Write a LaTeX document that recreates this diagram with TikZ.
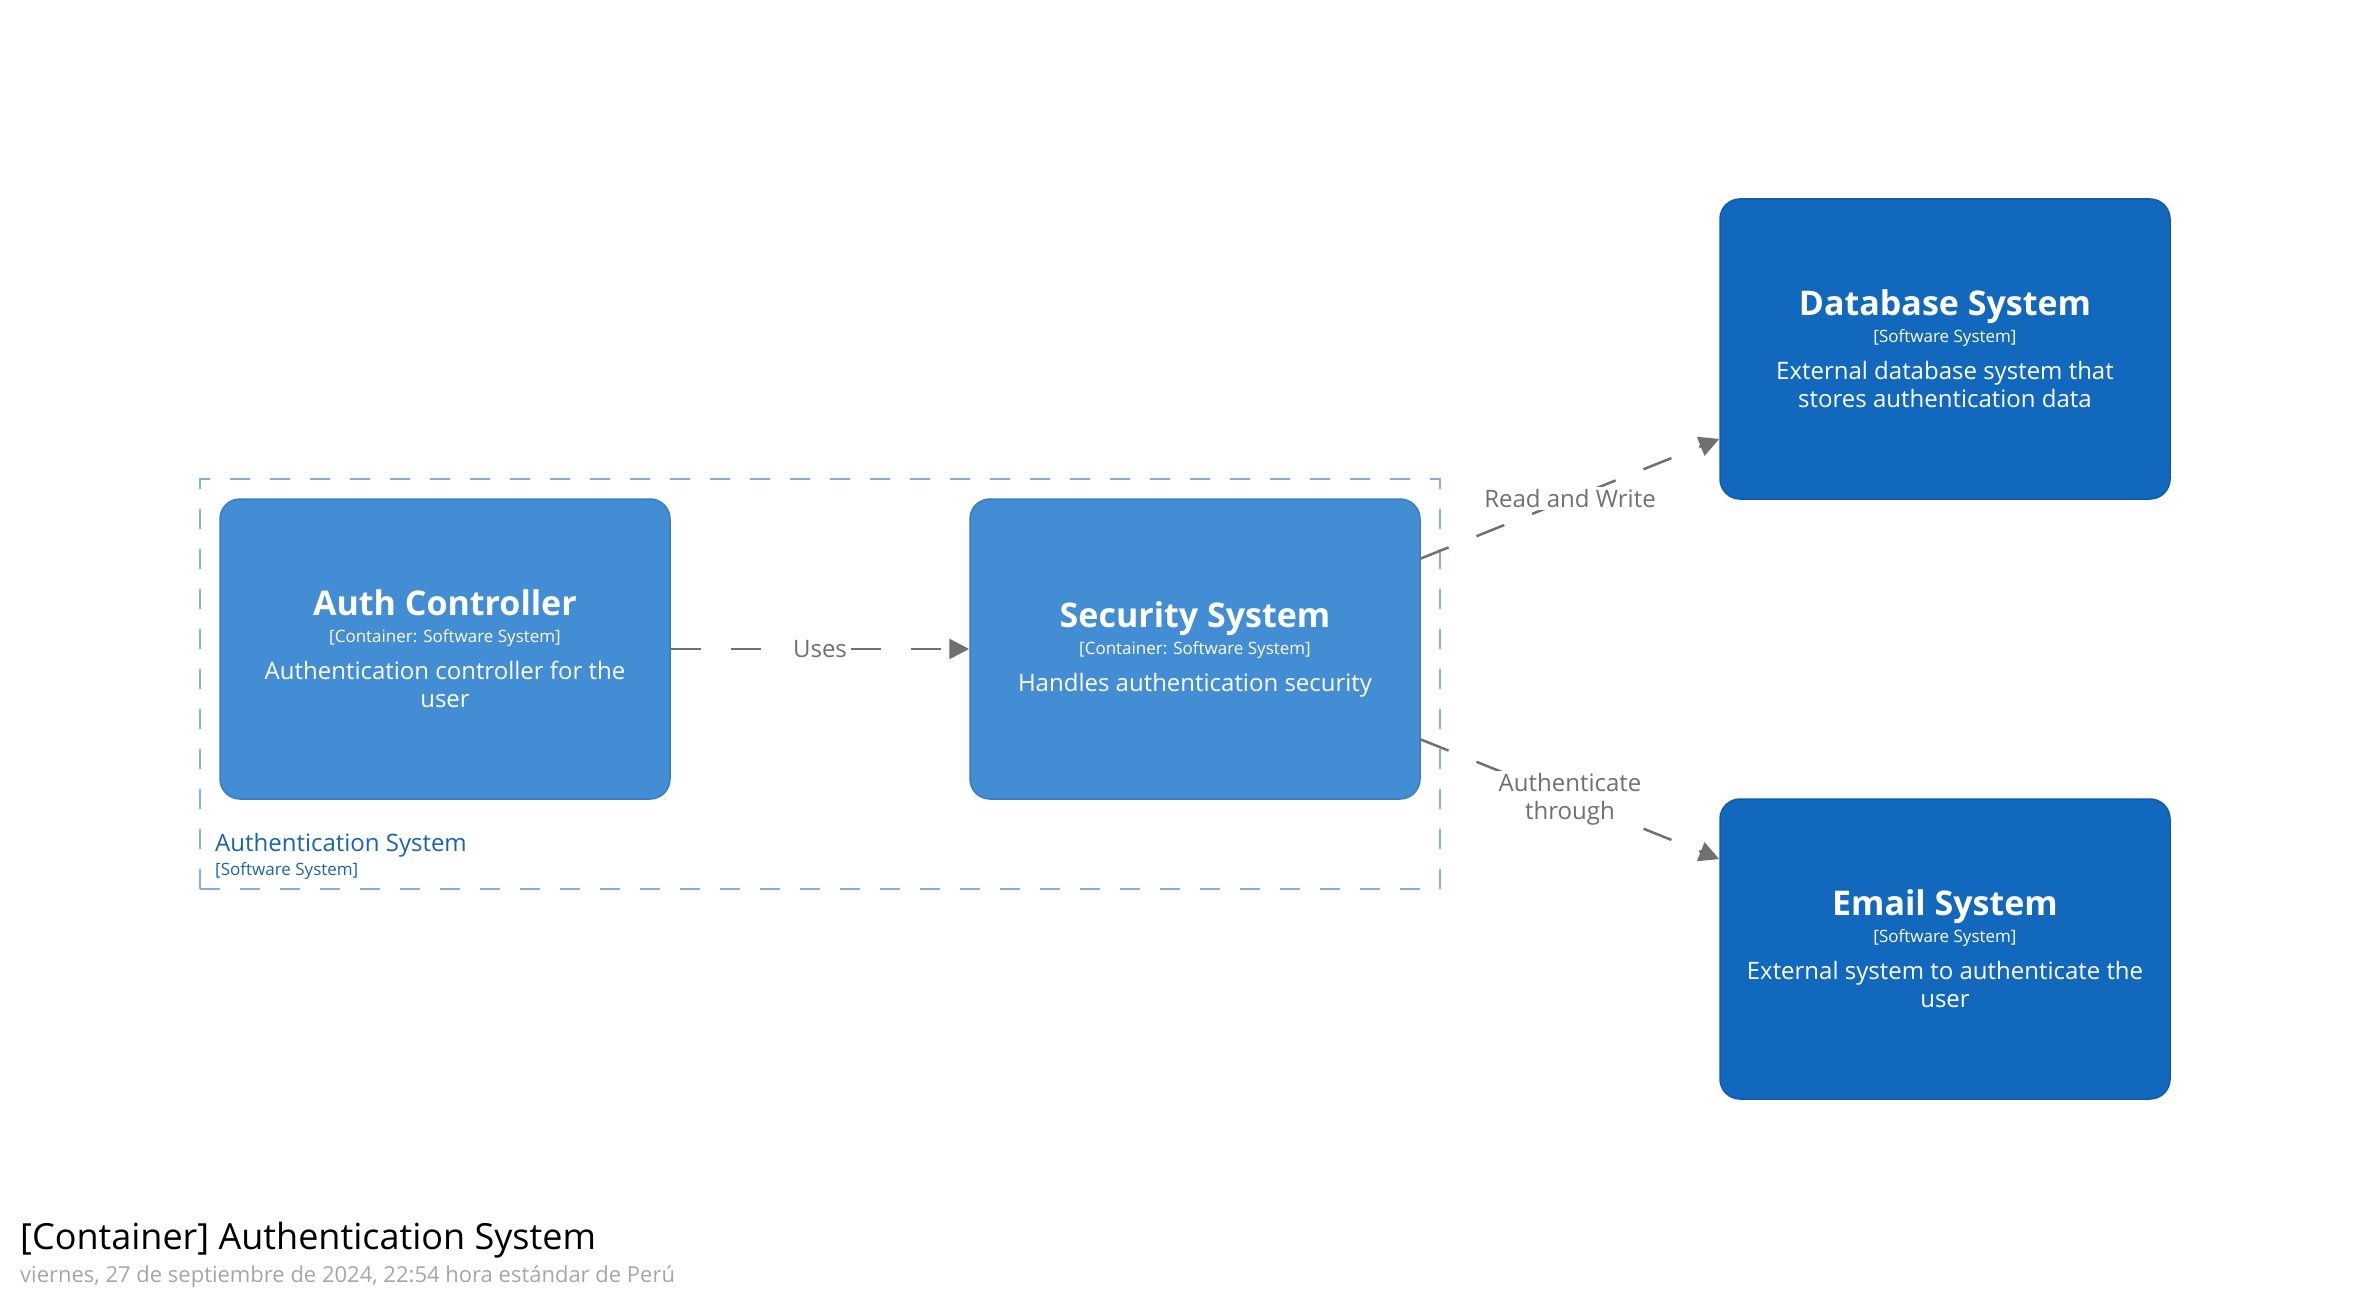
\documentclass[tikz,border=0pt]{standalone}
\usepackage{fontspec}
\setmainfont{Open Sans}
\usetikzlibrary{arrows.meta,positioning}
\setlength{\parindent}{0pt}

\definecolor{contFill}{HTML}{438DD5}
\definecolor{contBorder}{HTML}{3A7DBF}
\definecolor{sysFill}{HTML}{1168BD}
\definecolor{sysBorder}{HTML}{0E5CA9}
\definecolor{relGrey}{HTML}{707070}
\definecolor{bndLine}{HTML}{87AEDB}
\definecolor{bndText}{HTML}{1A63B0}
\definecolor{dateGrey}{HTML}{A6A6A6}

% name, metadata and description of an element
\newcommand{\elname}[1]{{\fontsize{34}{40}\selectfont\bfseries #1\par}}
\newcommand{\elmeta}[1]{{\fontsize{17}{27}\selectfont #1\par}\vspace{9pt}}
\newcommand{\eldesc}[1]{{\fontsize{24}{28}\selectfont #1\par}}

\tikzset{
  container/.style={draw=contBorder, fill=contFill, line width=1.5pt,
    rounded corners=20pt, minimum width=450pt, minimum height=300pt,
    text=white, text width=420pt, align=flush center, inner sep=0pt},
  extsystem/.style={container, draw=sysBorder, fill=sysFill},
  boundary/.style={draw=bndLine, line width=2pt, dash pattern=on 20pt off 20pt,
    minimum width=1240pt, minimum height=410pt, inner sep=0pt},
  rel/.style={draw=relGrey, line width=2.5pt, dash pattern=on 30pt off 30pt,
    -{Triangle[length=20pt,width=20pt]}},
  rellabel/.style={fill=white, text=relGrey, align=center, inner sep=2pt,
    font=\fontsize{24}{28}\selectfont},
}

\begin{document}
\begin{tikzpicture}[x=1pt, y=-1pt]
	\useasboundingbox (0,0) rectangle (2370,1300);
	
	% Software system boundary
	\node[boundary] (authsys) at (820,684) {};
	\node[anchor=base west, text=bndText, inner sep=0pt, font=\fontsize{24}{28}\selectfont]
		(authsysname) at (215,851) {Authentication System};
	\node[anchor=base west, text=bndText, inner sep=0pt, font=\fontsize{17}{20}\selectfont]
		(authsysmeta) at (215,875) {[Software System]};
	
	% Containers
	\node[container] (authctrl) at (445,649) {\elname{Auth Controller}
		\elmeta{[Container: Software System]}
		\eldesc{Authentication controller for the\par user}};
	\node[container] (secsys) at (1195,649) {\elname{Security System}
		\elmeta{[Container: Software System]}
		\eldesc{Handles authentication security}};
	
	% External systems
	\node[extsystem] (dbsys) at (1945,349) {\elname{Database System}
		\elmeta{[Software System]}
		\eldesc{External database system that\par stores authentication data}};
	\node[extsystem] (mailsys) at (1945,949) {\elname{Email System}
		\elmeta{[Software System]}
		\eldesc{External system to authenticate the\par user}};
	
	% Relationships
	\draw[rel] (authctrl) -- node[rellabel] {Uses} (secsys);
	\draw[rel] (secsys) -- node[rellabel] {Read and Write} (dbsys);
	\draw[rel] (secsys) -- node[rellabel] {Authenticate\\ through} (mailsys);
	
	% Title and date
	\node[anchor=base west, inner sep=0pt, font=\fontsize{36}{40}\selectfont]
		(title) at (20,1249) {[Container] Authentication System};
	\node[anchor=base west, inner sep=0pt, text=dateGrey, font=\fontsize{22}{26}\selectfont]
		(date) at (20,1282) {viernes, 27 de septiembre de 2024, 22:54 hora estándar de Perú};
\end{tikzpicture}
\end{document}
